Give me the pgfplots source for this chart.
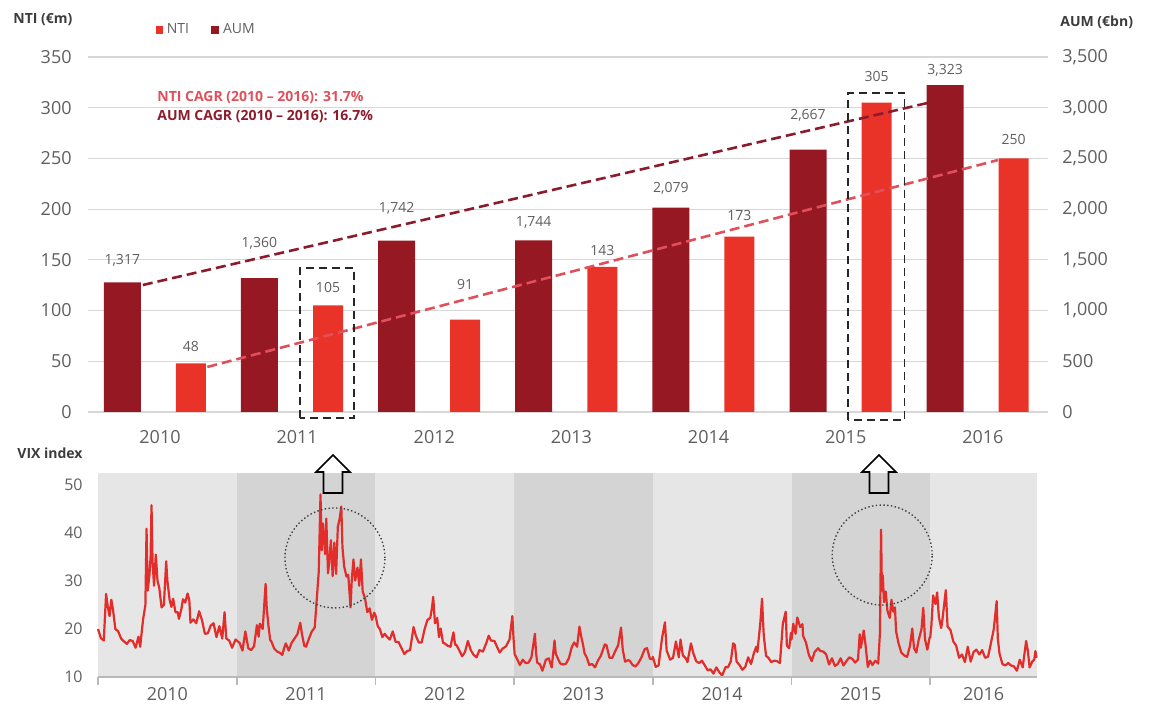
\documentclass[border=0pt]{standalone}
\usepackage{fontspec}
\setmainfont{Open Sans}
\usepackage{pgfplots}
\pgfplotsset{compat=1.18}
\usepackage{pgfplotstable}

\definecolor{aumred}{RGB}{150,24,34}
\definecolor{ntired}{RGB}{233,50,40}
\definecolor{labgray}{RGB}{95,95,95}
\definecolor{titlegray}{RGB}{60,60,60}
\definecolor{gridgray}{RGB}{215,215,215}
\definecolor{bandlight}{RGB}{230,230,230}
\definecolor{banddark}{RGB}{212,212,212}
\definecolor{vixred}{RGB}{226,45,42}
\definecolor{aumline}{RGB}{140,28,45}
\definecolor{ntiline}{RGB}{225,80,90}

% NTI in EUR m, AUM in EUR bn
\pgfplotstableread{
year xa xn nti aum
2010 0 1 48 1317
2011 2 3 105 1360
2012 4 5 91 1742
2013 6 7 143 1744
2014 8 9 173 2079
2015 10 11 305 2667
2016 12 13 250 3323
}\bars

% value labels: x position, label height (right-axis units), text
\pgfplotstableread{
x y lab
0 1499 1,317
2 1666 1,360
4 2008 1,742
6 1870 1,744
8 2205 2,079
10 2928 2,667
12 3372 3,323
1 641 48
3 1223 105
5 1252 91
7 1590 143
9 1942 173
11 3303 305
13 2682 250
}\labels

% VIX index, x in months since Jan 2010
\pgfplotstableread{
m v
0.0 20.0
0.25 18.1
0.5 17.6
0.7 27.3
0.85 24.6
1.0 22.7
1.15 26.1
1.3 24.0
1.5 20.0
1.75 19.5
2.0 18.0
2.25 17.4
2.5 16.9
2.75 17.7
3.0 17.5
3.25 16.1
3.5 18.4
3.65 16.3
3.9 22.0
4.1 25.0
4.2 40.9
4.3 28.0
4.45 31.2
4.55 35.0
4.63 45.8
4.72 34.0
4.85 29.0
5.0 35.5
5.15 30.0
5.3 28.6
5.5 24.5
5.7 25.0
5.9 34.1
6.0 30.1
6.2 26.0
6.35 24.6
6.5 26.3
6.7 23.5
6.9 23.5
7.0 22.1
7.2 24.0
7.35 26.2
7.55 25.5
7.75 27.4
7.9 26.0
8.0 21.3
8.25 22.0
8.5 21.2
8.75 23.7
9.0 21.8
9.25 19.0
9.5 19.1
9.75 20.7
10.0 21.2
10.25 18.3
10.5 20.6
10.75 18.0
10.95 23.5
11.1 18.0
11.35 17.6
11.6 16.1
11.9 17.8
12.0 17.6
12.25 17.1
12.5 15.5
12.75 19.5
13.0 16.0
13.25 15.6
13.5 16.4
13.75 20.8
13.9 18.4
14.0 21.1
14.25 20.0
14.5 29.4
14.6 24.3
14.75 20.6
14.9 17.7
15.0 17.4
15.25 15.9
15.5 15.3
15.75 15.0
15.95 14.6
16.1 16.0
16.25 17.0
16.5 15.5
16.75 17.1
17.0 18.0
17.25 18.9
17.5 21.3
17.65 18.9
17.85 16.5
18.0 16.3
18.25 18.0
18.5 19.5
18.75 20.3
18.9 25.3
19.1 32.0
19.25 48.0
19.35 36.4
19.45 42.0
19.55 39.0
19.65 35.6
19.75 43.0
19.9 31.6
20.0 33.9
20.15 38.5
20.3 31.0
20.45 38.0
20.6 31.5
20.75 41.3
20.9 42.9
21.05 45.5
21.15 37.0
21.3 33.0
21.5 30.9
21.65 31.3
21.85 24.5
21.95 30.0
22.1 34.5
22.25 30.1
22.45 32.8
22.6 29.0
22.75 34.5
22.9 27.8
23.1 26.4
23.3 23.5
23.5 24.3
23.7 21.9
23.9 23.4
24.0 22.9
24.2 20.6
24.4 19.9
24.6 18.3
24.8 19.0
25.0 18.4
25.25 17.8
25.5 19.5
25.75 17.3
26.0 17.3
26.2 16.3
26.5 14.8
26.75 15.4
27.0 15.6
27.3 20.4
27.5 18.6
27.75 17.2
28.0 17.2
28.25 19.9
28.5 21.9
28.75 22.3
28.9 24.5
29.0 26.7
29.15 21.2
29.35 22.3
29.5 18.3
29.65 20.1
29.85 17.1
30.0 17.0
30.25 16.5
30.5 16.3
30.75 19.3
30.9 16.7
31.0 16.7
31.25 15.6
31.5 14.3
31.75 15.2
32.0 17.5
32.25 15.6
32.5 14.6
32.75 14.1
33.0 15.6
33.3 15.3
33.6 17.1
33.8 18.6
34.0 17.6
34.3 17.5
34.5 16.4
34.75 15.1
35.0 15.9
35.3 16.4
35.6 17.8
35.85 22.7
35.95 18.0
36.05 14.7
36.25 13.8
36.5 12.5
36.75 13.6
37.0 12.9
37.25 13.0
37.5 14.1
37.8 19.0
37.9 15.0
38.0 13.0
38.25 12.6
38.45 11.3
38.75 13.6
39.0 13.9
39.25 12.0
39.5 17.6
39.6 14.9
39.85 13.5
40.0 12.8
40.25 12.6
40.5 12.8
40.75 14.0
41.0 16.3
41.2 17.2
41.45 16.3
41.65 20.5
41.8 18.5
41.95 16.9
42.1 14.9
42.3 14.0
42.5 12.5
42.75 12.7
43.0 12.0
43.25 13.4
43.5 14.4
43.85 16.8
44.0 16.6
44.25 14.0
44.5 14.0
44.75 15.4
45.0 16.6
45.25 20.3
45.4 15.7
45.6 13.2
45.85 13.5
46.0 13.4
46.25 12.5
46.5 12.2
46.75 12.9
47.0 14.0
47.3 15.8
47.5 16.0
47.75 13.8
47.95 13.7
48.0 14.2
48.25 12.1
48.5 12.4
48.8 18.1
49.05 21.4
49.2 15.5
49.5 13.6
49.75 14.0
50.0 17.4
50.25 14.1
50.4 17.8
50.6 14.5
50.85 13.9
51.0 13.1
51.3 17.0
51.5 15.0
51.75 13.3
52.0 12.9
52.25 13.4
52.5 12.4
52.75 11.4
53.0 11.6
53.25 10.7
53.5 12.0
53.75 11.0
54.0 10.3
54.3 12.1
54.5 12.0
54.75 13.3
54.95 17.0
55.1 16.7
55.25 13.2
55.5 12.5
55.75 11.5
56.0 12.1
56.25 14.1
56.5 12.7
56.75 15.0
56.95 16.3
57.05 15.2
57.3 21.2
57.45 26.3
57.6 18.6
57.8 14.4
58.0 14.0
58.25 13.1
58.5 13.4
58.75 13.3
59.0 12.9
59.25 21.1
59.5 23.6
59.6 16.5
59.8 16.0
59.95 19.2
60.0 17.8
60.15 21.1
60.35 19.0
60.5 22.4
60.75 20.4
60.95 21.0
61.0 18.6
61.25 17.2
61.5 14.6
61.75 13.3
62.0 15.2
62.3 16.0
62.5 15.4
62.75 15.3
63.0 14.7
63.25 12.6
63.5 13.9
63.75 12.3
64.0 12.7
64.25 13.9
64.5 12.4
64.75 13.3
65.0 14.1
65.25 13.8
65.5 13.0
65.75 13.6
65.9 18.9
66.0 16.1
66.25 19.7
66.4 16.8
66.6 12.1
66.8 13.4
67.0 12.5
67.25 13.4
67.5 12.8
67.65 19.1
67.75 40.7
67.82 28.0
67.9 31.2
68.0 25.6
68.15 27.8
68.3 23.8
68.5 22.3
68.65 26.1
68.8 23.6
68.95 24.5
69.05 19.5
69.25 17.1
69.5 15.1
69.75 14.5
70.0 14.2
70.25 16.5
70.45 20.1
70.6 16.0
70.8 15.1
71.0 17.7
71.25 20.0
71.4 24.4
71.55 17.9
71.75 15.7
71.95 18.2
72.0 18.2
72.1 20.7
72.25 27.0
72.45 25.2
72.6 27.6
72.75 22.5
72.95 20.2
73.05 21.8
73.25 26.0
73.35 28.1
73.5 20.5
73.75 19.8
74.0 17.4
74.25 16.5
74.5 14.0
74.75 14.7
75.0 13.1
75.25 16.3
75.5 13.2
75.75 15.2
76.0 15.7
76.25 14.7
76.5 15.6
76.75 14.0
77.0 14.2
77.25 17.0
77.5 20.0
77.75 25.8
77.85 18.0
78.0 14.8
78.25 12.7
78.5 12.4
78.75 12.9
79.0 12.4
79.25 12.2
79.5 11.3
79.75 13.6
80.0 12.0
80.3 17.5
80.45 15.4
80.6 12.0
80.85 13.3
81.0 13.6
81.1 15.4
81.2 14.0
}\vix

\begin{document}
\begin{tikzpicture}
\path[use as bounding box] (0pt,0pt) rectangle (575pt,352pt);

% ---------------- top chart: NTI bars, left axis ----------------
\begin{axis}[
  at={(44pt,146pt)}, anchor=south west, scale only axis,
  width=480pt, height=177.5pt,
  xmin=-0.5, xmax=13.5, ymin=0, ymax=350,
  ytick={0,50,...,350},
  xtick={0.55,2.55,4.55,6.55,8.55,10.55,12.55},
  xticklabels={2010,2011,2012,2013,2014,2015,2016},
  axis line style={draw=none}, tick style={draw=none},
  ymajorgrids, grid style={gridgray, line width=0.6pt},
  tick label style={font=\fontsize{9}{10}\selectfont, text=labgray},
  yticklabel style={anchor=east, inner sep=0pt, xshift=-8pt},
  xticklabel style={anchor=north, inner sep=0pt, yshift=-9pt},
  /pgf/number format/assume math mode=true,
  clip=false,
  legend style={at={(0.07,1.076)}, anchor=west, draw=none, fill=none,
     font=\fontsize{7}{8}\selectfont, text=labgray, inner sep=0pt,
     legend cell align=left,
     /tikz/every even column/.append style={column sep=9pt}},
  legend columns=-1,
]
\addplot[ybar, bar width=15pt, bar shift=0pt, fill=ntired, draw=none,
  legend image code/.code={\fill[ntired] (0pt,-1.8pt) rectangle (3.6pt,1.8pt);}]
  table[x=xn, y=nti] {\bars};
\addlegendentry{NTI}
\addlegendimage{legend image code/.code={\fill[aumred] (0pt,-1.8pt) rectangle (3.6pt,1.8pt);}}
\addlegendentry{AUM}
\end{axis}

% AUM bars (the original draws them on a slightly compressed scale)
\begin{axis}[
  at={(44pt,146pt)}, anchor=south west, scale only axis,
  width=480pt, height=177.5pt,
  xmin=-0.5, xmax=13.5, ymin=0, ymax=3610,
  hide axis, clip=false,
]
\addplot[ybar, bar width=18.5pt, bar shift=0pt, fill=aumred, draw=none]
  table[x=xa, y=aum] {\bars};
\end{axis}

% right axis (AUM, EUR bn), trend lines, boxes, value labels
\begin{axis}[
  at={(44pt,146pt)}, anchor=south west, scale only axis,
  width=480pt, height=177.5pt,
  xmin=-0.5, xmax=13.5, ymin=0, ymax=3500,
  ytick={0,500,...,3500},
  axis y line*=right, axis x line=none,
  y axis line style={draw=none}, ytick style={draw=none},
  tick label style={font=\fontsize{9}{10}\selectfont, text=labgray},
  yticklabel style={anchor=west, inner sep=0pt, xshift=7pt},
  /pgf/number format/assume math mode=true,
  /pgf/number format/1000 sep={,},
  clip=false,
]
% CAGR trend lines
\draw[aumline, line width=1.3pt, dash pattern=on 5pt off 2.5pt] (axis cs:0.30,1252) -- (axis cs:11.74,3046);
\draw[ntiline, line width=1.3pt, dash pattern=on 5pt off 2.5pt] (axis cs:1.24,444) -- (axis cs:12.77,2484);
% highlight boxes
\draw[black!85, line width=0.8pt, dash pattern=on 4pt off 2.5pt] (axis cs:2.59,-59) rectangle (axis cs:3.38,1420);
\draw[black!85, line width=0.8pt, dash pattern=on 4pt off 2.5pt] (axis cs:10.58,-79) rectangle (axis cs:11.41,3145);
% value labels
\addplot[draw=none, mark=none, point meta=explicit symbolic, nodes near coords,
  every node near coord/.append style={anchor=center, inner sep=0pt, yshift=0pt,
     font=\fontsize{7}{8}\selectfont, text=labgray}]
  table[x=x, y=y, meta=lab] {\labels};
\end{axis}

% ---------------- bottom chart: VIX ----------------
\begin{axis}[
  at={(49pt,13.5pt)}, anchor=south west, scale only axis,
  width=469.5pt, height=102pt,
  xmin=0, xmax=81.24, ymin=10, ymax=52.5,
  ytick={10,20,...,50},
  xtick={0,12,24,36,48,60,72}, xticklabels={},
  extra x ticks={6,18,30,42,54,66,76.62},
  extra x tick labels={2010,2011,2012,2013,2014,2015,2016},
  extra x tick style={major tick length=0pt},
  axis x line*=bottom, axis y line*=left,
  x axis line style={-, color=gray!55, line width=0.8pt},
  y axis line style={draw=none},
  ytick style={draw=none},
  xtick style={color=gray!55, line width=0.8pt},
  tick align=outside, major tick length=4pt,
  tick label style={font=\fontsize{9}{10}\selectfont, text=labgray},
  yticklabel style={font=\fontsize{8}{9}\selectfont, anchor=east, inner sep=0pt, xshift=-3.5pt},
  xticklabel style={anchor=north, inner sep=0pt, yshift=-5pt},
  /pgf/number format/assume math mode=true,
  axis on top, clip=false,
]
\fill[bandlight] (axis cs:0,10) rectangle (axis cs:12,52.5);
\fill[banddark] (axis cs:12,10) rectangle (axis cs:24,52.5);
\fill[bandlight] (axis cs:24,10) rectangle (axis cs:36,52.5);
\fill[banddark] (axis cs:36,10) rectangle (axis cs:48,52.5);
\fill[bandlight] (axis cs:48,10) rectangle (axis cs:60,52.5);
\fill[banddark] (axis cs:60,10) rectangle (axis cs:72,52.5);
\fill[bandlight] (axis cs:72,10) rectangle (axis cs:81.24,52.5);
\addplot[vixred, line width=1.1pt, mark=none, line join=round] table[x=m, y=v] {\vix};
\draw[black!75, line width=0.7pt, dash pattern=on 0.7pt off 1.2pt] (axis cs:20.5,34.8) circle [radius=25pt];
\draw[black!75, line width=0.7pt, dash pattern=on 0.7pt off 1.2pt] (axis cs:67.85,35.4) circle [radius=25pt];
\end{axis}

% ---------------- annotations in pixel coordinates ----------------
\begin{scope}[x=0.5pt, y=-0.5pt, shift={(0pt,352pt)}]
  % hollow arrows
  \draw[black, line width=0.8pt, line join=miter]
    (333,455) -- (350,472) -- (342.5,472) -- (342.5,493) -- (323.5,493) -- (323.5,472) -- (316,472) -- cycle;
  \draw[black, line width=0.8pt, line join=miter]
    (879,455) -- (896,472) -- (888.5,472) -- (888.5,493) -- (869.5,493) -- (869.5,472) -- (862,472) -- cycle;
  % titles
  \node[anchor=west, inner sep=0pt, text=titlegray, font=\bfseries\fontsize{7}{8}\selectfont] at (13,20) {NTI (€m)};
  \node[anchor=west, inner sep=0pt, text=titlegray, font=\bfseries\fontsize{7}{8}\selectfont] at (1060,22) {AUM (€bn)};
  \node[anchor=west, inner sep=0pt, text=titlegray, font=\bfseries\fontsize{7}{8}\selectfont] at (17,453) {VIX index};
  % CAGR notes
  \node[anchor=west, inner sep=0pt, text=ntiline, font=\bfseries\fontsize{7}{8}\selectfont] at (157,98) {NTI CAGR (2010 – 2016): 31.7\%};
  \node[anchor=west, inner sep=0pt, text=aumline, font=\bfseries\fontsize{7}{8}\selectfont] at (157,117) {AUM CAGR (2010 – 2016): 16.7\%};
\end{scope}
\end{tikzpicture}
\end{document}
